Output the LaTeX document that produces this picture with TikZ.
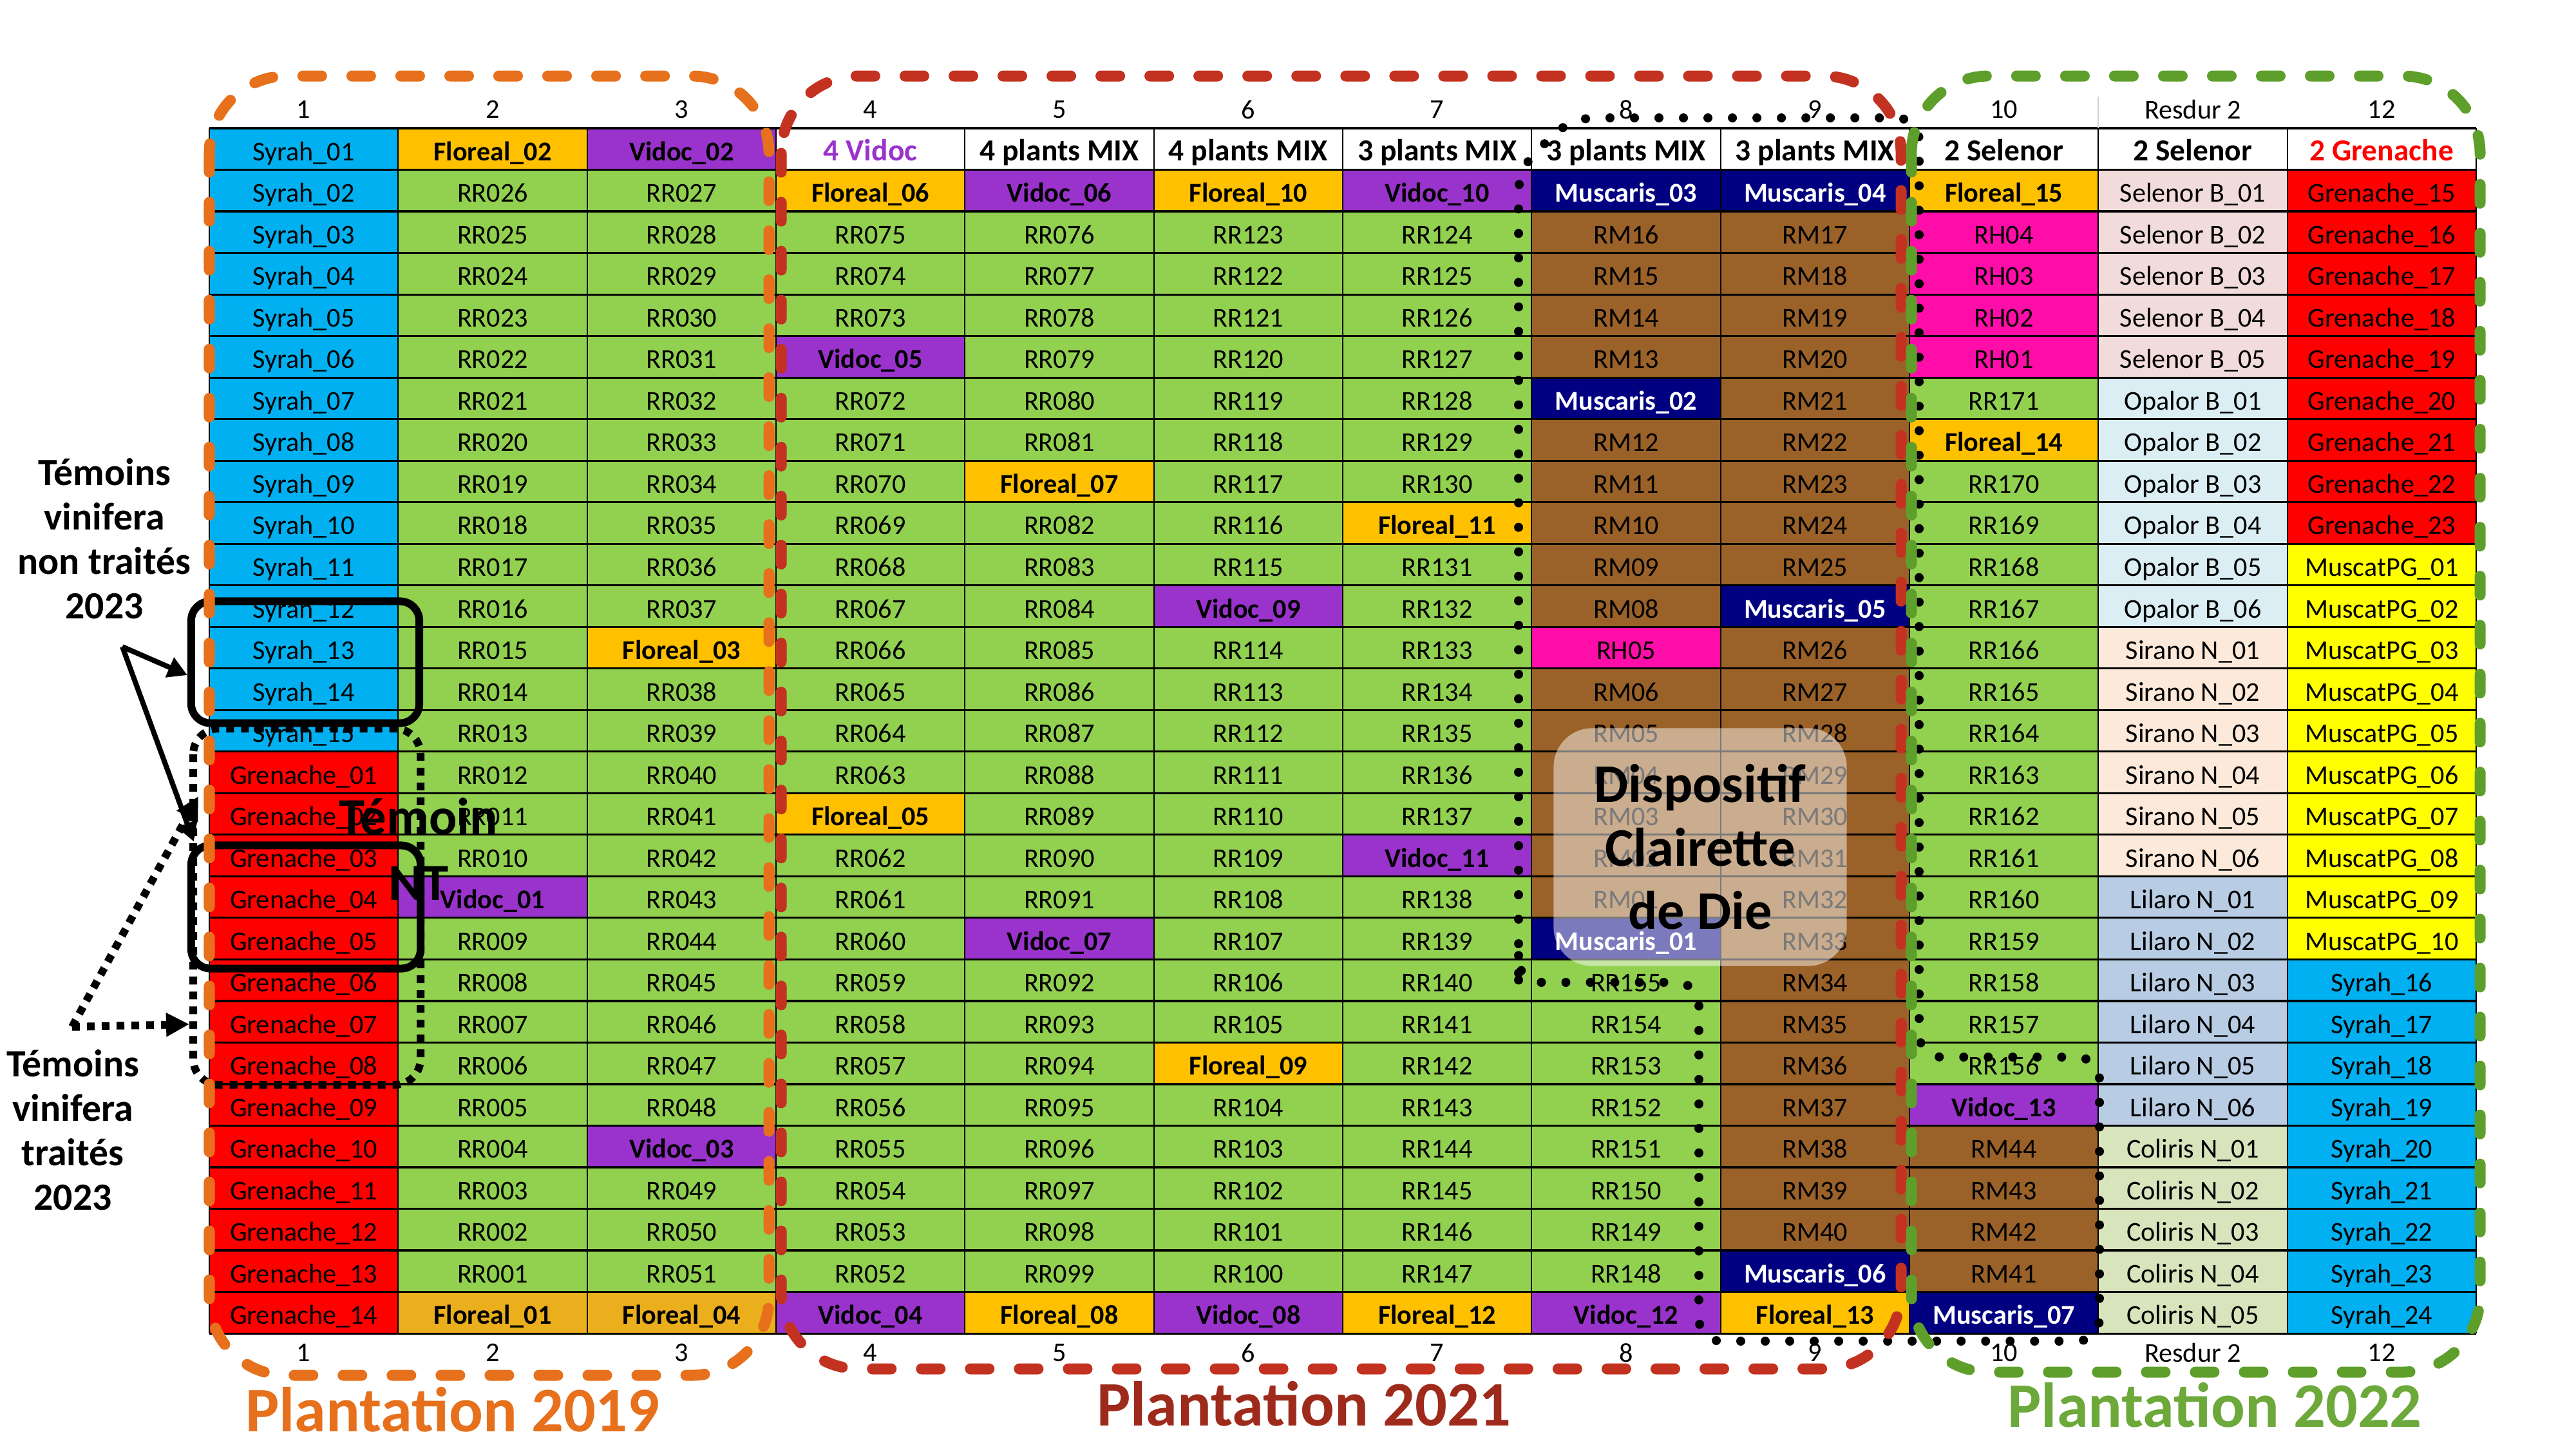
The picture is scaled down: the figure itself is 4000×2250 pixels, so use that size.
\documentclass[tikz,border=0pt]{standalone}
\usepackage{fontspec}
\setmainfont{Carlito}
\usepackage{tikz}
\usetikzlibrary{arrows.meta}
\definecolor{cSyrah}{HTML}{00B0F0}
\definecolor{cGren}{HTML}{FF0000}
\definecolor{cRR}{HTML}{92D050}
\definecolor{cFlor}{HTML}{FFC000}
\definecolor{cFlorB}{HTML}{EBAE1C}
\definecolor{cVidoc}{HTML}{9933CC}
\definecolor{cMusc}{HTML}{000080}
\definecolor{cRM}{HTML}{9A6128}
\definecolor{cRH}{HTML}{FF0DA8}
\definecolor{cSel}{HTML}{F2DCDB}
\definecolor{cOpa}{HTML}{DAEEF3}
\definecolor{cSir}{HTML}{FDE9D9}
\definecolor{cLil}{HTML}{B8CCE4}
\definecolor{cCol}{HTML}{D8E4BC}
\definecolor{cMPG}{HTML}{FFFF00}
\definecolor{cP19}{HTML}{E6701C}
\definecolor{cP21}{HTML}{C33220}
\definecolor{cP21t}{HTML}{9E2A1B}
\definecolor{cP22}{HTML}{5E9F2C}
\definecolor{cP22t}{HTML}{6CA83A}
\newcommand\cellfont{\fontsize{12}{14}\selectfont}
\newcommand\plantcol[2]{%
  \foreach [count=\row] \sty/\txt in {#2}
    \node[\sty] (c#1-\row) at ({325+(#1-0.5)*293.33},{199+(\row-0.5)*64.52}) {\txt};}
\tikzset{
  cell/.style={rectangle, inner sep=0pt, minimum width=2.933cm, minimum height=0.645cm,
    text height=0.40cm, text depth=0.04cm, font=\cellfont},
  syr/.style={cell, fill=cSyrah},
  gre/.style={cell, fill=cGren},
  grn/.style={cell, fill=cRR},
  flo/.style={cell, fill=cFlor, font=\cellfont\bfseries},
  flo2/.style={cell, fill=cFlorB, font=\cellfont\bfseries},
  vid/.style={cell, fill=cVidoc, font=\cellfont\bfseries},
  mus/.style={cell, fill=cMusc, text=white, font=\cellfont\bfseries},
  brn/.style={cell, fill=cRM},
  rh/.style={cell, fill=cRH},
  sel/.style={cell, fill=cSel},
  opa/.style={cell, fill=cOpa},
  sir/.style={cell, fill=cSir},
  lil/.style={cell, fill=cLil},
  cli/.style={cell, fill=cCol},
  yel/.style={cell, fill=cMPG},
  hdr/.style={cell, fill=white, font=\fontsize{13.5}{16}\selectfont\bfseries},
  hdv/.style={hdr, text=cVidoc},
  hdg/.style={hdr, text=cGren},
  collab/.style={font=\cellfont, inner sep=0pt},
  hline/.style={line width=0.9pt},
  vline/.style={line width=0.6pt},
  clairdots/.style={line width=0.14cm, dash pattern=on 0pt off 0.38cm, line cap=round, rounded corners=0.35cm},
  sqdots/.style={line width=0.12cm, dash pattern=on 0.12cm off 0.11cm},
  ntbox/.style={draw, line width=0.12cm, rounded corners=0.3cm, inner sep=0pt},
  ntarrow/.style={line width=0.08cm, -{Triangle[length=0.3cm, width=0.32cm]}},
  vtarrow/.style={sqdots, -{Triangle[length=0.36cm, width=0.35cm]}},
  plantbox/.style={line width=0.17cm, dash pattern=on 0.29cm off 0.47cm, line cap=round, rounded corners=1.2cm},
  sidelab/.style={align=center, font=\fontsize{17}{19.6}\selectfont\bfseries, inner sep=0pt},
  biglab/.style={align=center, font=\fontsize{24}{28}\selectfont\bfseries, inner sep=0pt},
  plant/.style={font=\fontsize{28}{32}\selectfont\bfseries, anchor=base, inner sep=0pt}
}
\begin{document}
\begin{tikzpicture}[x=0.01cm, y=-0.01cm]
  \useasboundingbox (0,0) rectangle (4000,2250);
  % cells
  \plantcol{1}{syr/Syrah\_01,syr/Syrah\_02,syr/Syrah\_03,syr/Syrah\_04,syr/Syrah\_05,syr/Syrah\_06,syr/Syrah\_07,syr/Syrah\_08,syr/Syrah\_09,syr/Syrah\_10,syr/Syrah\_11,syr/Syrah\_12,syr/Syrah\_13,syr/Syrah\_14,syr/Syrah\_15,gre/Grenache\_01,gre/Grenache\_02,gre/Grenache\_03,gre/Grenache\_04,gre/Grenache\_05,gre/Grenache\_06,gre/Grenache\_07,gre/Grenache\_08,gre/Grenache\_09,gre/Grenache\_10,gre/Grenache\_11,gre/Grenache\_12,gre/Grenache\_13,gre/Grenache\_14}
  \plantcol{2}{flo/Floreal\_02,grn/RR026,grn/RR025,grn/RR024,grn/RR023,grn/RR022,grn/RR021,grn/RR020,grn/RR019,grn/RR018,grn/RR017,grn/RR016,grn/RR015,grn/RR014,grn/RR013,grn/RR012,grn/RR011,grn/RR010,vid/Vidoc\_01,grn/RR009,grn/RR008,grn/RR007,grn/RR006,grn/RR005,grn/RR004,grn/RR003,grn/RR002,grn/RR001,flo2/Floreal\_01}
  \plantcol{3}{vid/Vidoc\_02,grn/RR027,grn/RR028,grn/RR029,grn/RR030,grn/RR031,grn/RR032,grn/RR033,grn/RR034,grn/RR035,grn/RR036,grn/RR037,flo/Floreal\_03,grn/RR038,grn/RR039,grn/RR040,grn/RR041,grn/RR042,grn/RR043,grn/RR044,grn/RR045,grn/RR046,grn/RR047,grn/RR048,vid/Vidoc\_03,grn/RR049,grn/RR050,grn/RR051,flo2/Floreal\_04}
  \plantcol{4}{hdv/4 Vidoc,flo/Floreal\_06,grn/RR075,grn/RR074,grn/RR073,vid/Vidoc\_05,grn/RR072,grn/RR071,grn/RR070,grn/RR069,grn/RR068,grn/RR067,grn/RR066,grn/RR065,grn/RR064,grn/RR063,flo/Floreal\_05,grn/RR062,grn/RR061,grn/RR060,grn/RR059,grn/RR058,grn/RR057,grn/RR056,grn/RR055,grn/RR054,grn/RR053,grn/RR052,vid/Vidoc\_04}
  \plantcol{5}{hdr/4 plants MIX,vid/Vidoc\_06,grn/RR076,grn/RR077,grn/RR078,grn/RR079,grn/RR080,grn/RR081,flo/Floreal\_07,grn/RR082,grn/RR083,grn/RR084,grn/RR085,grn/RR086,grn/RR087,grn/RR088,grn/RR089,grn/RR090,grn/RR091,vid/Vidoc\_07,grn/RR092,grn/RR093,grn/RR094,grn/RR095,grn/RR096,grn/RR097,grn/RR098,grn/RR099,flo/Floreal\_08}
  \plantcol{6}{hdr/4 plants MIX,flo/Floreal\_10,grn/RR123,grn/RR122,grn/RR121,grn/RR120,grn/RR119,grn/RR118,grn/RR117,grn/RR116,grn/RR115,vid/Vidoc\_09,grn/RR114,grn/RR113,grn/RR112,grn/RR111,grn/RR110,grn/RR109,grn/RR108,grn/RR107,grn/RR106,grn/RR105,flo/Floreal\_09,grn/RR104,grn/RR103,grn/RR102,grn/RR101,grn/RR100,vid/Vidoc\_08}
  \plantcol{7}{hdr/3 plants MIX,vid/Vidoc\_10,grn/RR124,grn/RR125,grn/RR126,grn/RR127,grn/RR128,grn/RR129,grn/RR130,flo/Floreal\_11,grn/RR131,grn/RR132,grn/RR133,grn/RR134,grn/RR135,grn/RR136,grn/RR137,vid/Vidoc\_11,grn/RR138,grn/RR139,grn/RR140,grn/RR141,grn/RR142,grn/RR143,grn/RR144,grn/RR145,grn/RR146,grn/RR147,flo/Floreal\_12}
  \plantcol{8}{hdr/3 plants MIX,mus/Muscaris\_03,brn/RM16,brn/RM15,brn/RM14,brn/RM13,mus/Muscaris\_02,brn/RM12,brn/RM11,brn/RM10,brn/RM09,brn/RM08,rh/RH05,brn/RM06,brn/RM05,brn/RM04,brn/RM03,brn/RM02,brn/RM01,mus/Muscaris\_01,grn/RR155,grn/RR154,grn/RR153,grn/RR152,grn/RR151,grn/RR150,grn/RR149,grn/RR148,vid/Vidoc\_12}
  \plantcol{9}{hdr/3 plants MIX,mus/Muscaris\_04,brn/RM17,brn/RM18,brn/RM19,brn/RM20,brn/RM21,brn/RM22,brn/RM23,brn/RM24,brn/RM25,mus/Muscaris\_05,brn/RM26,brn/RM27,brn/RM28,brn/RM29,brn/RM30,brn/RM31,brn/RM32,brn/RM33,brn/RM34,brn/RM35,brn/RM36,brn/RM37,brn/RM38,brn/RM39,brn/RM40,mus/Muscaris\_06,flo/Floreal\_13}
  \plantcol{10}{hdr/2 Selenor,flo/Floreal\_15,rh/RH04,rh/RH03,rh/RH02,rh/RH01,grn/RR171,flo/Floreal\_14,grn/RR170,grn/RR169,grn/RR168,grn/RR167,grn/RR166,grn/RR165,grn/RR164,grn/RR163,grn/RR162,grn/RR161,grn/RR160,grn/RR159,grn/RR158,grn/RR157,grn/RR156,vid/Vidoc\_13,brn/RM44,brn/RM43,brn/RM42,brn/RM41,mus/Muscaris\_07}
  \plantcol{11}{hdr/2 Selenor,sel/Selenor B\_01,sel/Selenor B\_02,sel/Selenor B\_03,sel/Selenor B\_04,sel/Selenor B\_05,opa/Opalor B\_01,opa/Opalor B\_02,opa/Opalor B\_03,opa/Opalor B\_04,opa/Opalor B\_05,opa/Opalor B\_06,sir/Sirano N\_01,sir/Sirano N\_02,sir/Sirano N\_03,sir/Sirano N\_04,sir/Sirano N\_05,sir/Sirano N\_06,lil/Lilaro N\_01,lil/Lilaro N\_02,lil/Lilaro N\_03,lil/Lilaro N\_04,lil/Lilaro N\_05,lil/Lilaro N\_06,cli/Coliris N\_01,cli/Coliris N\_02,cli/Coliris N\_03,cli/Coliris N\_04,cli/Coliris N\_05}
  \plantcol{12}{hdg/2 Grenache,gre/Grenache\_15,gre/Grenache\_16,gre/Grenache\_17,gre/Grenache\_18,gre/Grenache\_19,gre/Grenache\_20,gre/Grenache\_21,gre/Grenache\_22,gre/Grenache\_23,yel/MuscatPG\_01,yel/MuscatPG\_02,yel/MuscatPG\_03,yel/MuscatPG\_04,yel/MuscatPG\_05,yel/MuscatPG\_06,yel/MuscatPG\_07,yel/MuscatPG\_08,yel/MuscatPG\_09,yel/MuscatPG\_10,syr/Syrah\_16,syr/Syrah\_17,syr/Syrah\_18,syr/Syrah\_19,syr/Syrah\_20,syr/Syrah\_21,syr/Syrah\_22,syr/Syrah\_23,syr/Syrah\_24}
  % grid
  \foreach \k in {0,...,29}
    \draw[hline] (325,{199+\k*64.52}) -- (3845,{199+\k*64.52});
  \foreach \k in {0,...,12}
    \draw[vline] ({325+\k*293.33},199) -- ({325+\k*293.33},2070);
  \draw[gray!35, line width=0.5pt] (3258,150) -- (3258,199);
  % row numbers
  \foreach [count=\c] \lab in {1,2,3,4,5,6,7,8,9,10,Resdur 2,12} {
    \node[collab] (top-\c) at ({325+(\c-0.5)*293.33},170) {\lab};
    \node[collab] (bot-\c) at ({325+(\c-0.5)*293.33},2100) {\lab};
  }
  % Clairette de Die
  \node[biglab, minimum width=4.55cm, minimum height=3.69cm, rounded corners=0.6cm,
        fill=white, fill opacity=0.48, text opacity=1] (dispo) at (2640,1315)
        {Dispositif\\Clairette\\de Die};
  \draw[clairdots] (2358,1500) -- (2358,262) -- (2440,183) -- (2980,183) -- (2980,1641)
    -- (3260,1641) -- (3260,2082) -- (2638,2082) -- (2638,1525) -- (2358,1525) -- cycle;
  % temoins
  \draw[sqdots, rounded corners=0.4cm] (300,1131) rectangle (653,1684);
  \node[ntbox, minimum width=3.54cm, minimum height=1.89cm] (boxA) at (474,1028) {};
  \node[ntbox, minimum width=3.56cm, minimum height=1.91cm] (boxB) at (475,1408) {};
  \node[biglab, font=\fontsize{23}{29}\selectfont\bfseries] (nt) at (650,1318) {Témoin\\NT};
  \node[sidelab] (lab-nt) at (162,836) {Témoins\\vinifera\\non traités\\2023};
  \node[sidelab] (lab-t) at (113,1754) {Témoins\\vinifera\\traités\\2023};
  \coordinate (nt-src) at (190,1004);
  \draw[ntarrow] (nt-src) -- ([yshift=-0.2cm]boxA.west);
  \draw[ntarrow] (nt-src) -- ([xshift=0.1cm]boxB.north west);
  \coordinate (vt-src) at (112,1594);
  \coordinate (vt-up) at (308,1236);
  \coordinate (vt-side) at (294,1590);
  \draw[vtarrow] (vt-src) -- (vt-up);
  \draw[vtarrow] (vt-src) -- (vt-side);
  % plantations
  \draw[plantbox, cP19] (325,118) rectangle (1194,2135);
  \draw[plantbox, cP21] (1213,118) rectangle (2952,2125);
  \draw[plantbox, cP22] (2968,118) rectangle (3851,2130);
  \node[plant, text=cP19] (pl19) at (703,2222) {Plantation 2019};
  \node[plant, text=cP21t] (pl21) at (2025,2213) {Plantation 2021};
  \node[plant, text=cP22t] (pl22) at (3439,2215) {Plantation 2022};
\end{tikzpicture}
\end{document}
